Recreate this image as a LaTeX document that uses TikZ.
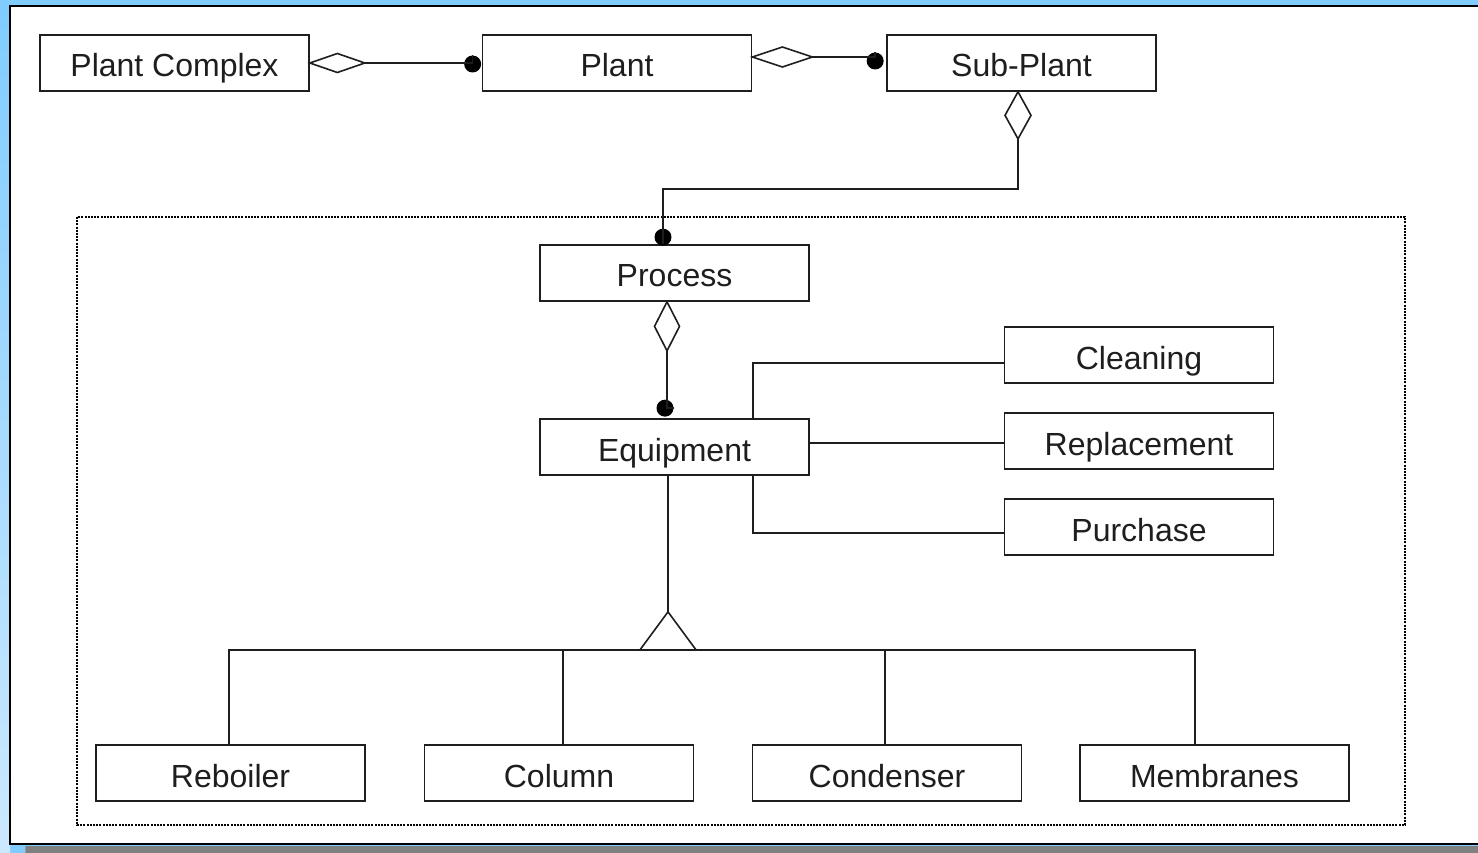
\documentclass[tikz,border=0pt]{standalone}
\usepackage{fontspec}
\setmainfont{Liberation Sans}
\usetikzlibrary{calc}
\definecolor{bgblue}{RGB}{128,204,255}
\definecolor{bglight}{RGB}{204,232,255}
\definecolor{ink}{RGB}{30,30,30}
\begin{document}
\begin{tikzpicture}[x=1pt,y=-1pt,
  cls/.style={draw=ink, line width=1.7pt, fill=white, minimum width=269pt, minimum height=56pt,
    inner sep=0pt, text height=28pt, text depth=0pt, font=\fontsize{32}{38}\selectfont, text=ink},
  conn/.style={line width=1.6pt, draw=ink},
  agg/.style={draw=ink, line width=1.6pt, fill=white, line join=miter},
  dotend/.style={circle, fill=black, inner sep=0pt, minimum size=17pt},
  frame/.style={draw=black, line width=2pt, dash pattern=on 2pt off 1.2pt}
]
\useasboundingbox (0,0) rectangle (1478,853);
% background
\fill[bgblue] (0,0) rectangle (1478,853);
\shade[top color=bgblue, bottom color=bglight] (0,0) rectangle (10,853);
\fill[white] (10,6) rectangle (1478,844);
\draw[line width=2.2pt, black] (1478,6) -- (10,6) -- (10,844) -- (1478,844);
\fill[gray] (26,846) rectangle (1478,853);
\draw[line width=1pt, black!40] (25.5,846) -- (25.5,853);

% dotted frame
\draw[frame] (77,217) rectangle (1405,825);

% classes
\node[cls] (pc) at (174.5,63) {Plant Complex};
\node[cls] (pl) at (617,63) {Plant};
\node[cls] (sp) at (1021.5,63) {Sub-Plant};
\node[cls] (pr) at (674.5,273) {Process};
\node[cls] (eq) at (674.5,447) {Equipment};
\node[cls] (cl) at (1139,355) {Cleaning};
\node[cls] (rp) at (1139,441) {Replacement};
\node[cls] (pu) at (1139,527) {Purchase};
\node[cls] (rb) at (230.5,773) {Reboiler};
\node[cls] (co) at (559,773) {Column};
\node[cls] (cn) at (887,773) {Condenser};
\node[cls] (mb) at (1214.5,773) {Membranes};

% Plant Complex -- Plant
\coordinate (a1) at (pc.east);
\draw[agg] (a1) -- ++(27.5,-9.5) -- ++(27.5,9.5) coordinate (a1t) -- ++(-27.5,9.5) -- cycle;
\node[dotend] (d1) at ($(pl.west)+(-9,1)$) {};
\draw[conn] (a1t) -- (a1t -| d1.center) -- (d1);

% Plant -- Sub-Plant
\coordinate (a2) at ($(pl.east)+(0,-6)$);
\draw[agg] (a2) -- ++(30,-10) -- ++(30,10) coordinate (a2t) -- ++(-30,10) -- cycle;
\node[dotend] (d2) at ($(sp.west)+(-11,-2)$) {};
\draw[conn] (a2t) -- (a2t -| d2.center) -- (d2);

% Sub-Plant -- Process
\coordinate (a3) at ($(sp.south)+(-3.5,0)$);
\draw[agg] (a3) -- ++(13,23.5) -- ++(-13,23.5) coordinate (a3t) -- ++(-13,-23.5) -- cycle;
\node[dotend] (d3) at ($(pr.north)+(-11.5,-7)$) {};
\coordinate (k3) at ($(a3t)+(0,50)$);
\draw[conn] (a3t) -- (k3) -- (k3 -| d3.center) -- (d3.center) -- (d3.center |- pr.north);

% Process -- Equipment
\coordinate (a4) at ($(pr.south)+(-7.5,0)$);
\draw[agg] (a4) -- ++(12.5,24.5) -- ++(-12.5,24.5) coordinate (a4t) -- ++(-12.5,-24.5) -- cycle;
\node[dotend] (d4) at ($(eq.north)+(-9.5,-10)$) {};
\draw[conn] (a4t) -- (a4t |- d4.center) -- (d4);

% Equipment -- Cleaning / Replacement / Purchase
\coordinate (e1) at ($(eq.north)+(78.5,0)$);
\draw[conn] (e1) -- (e1 |- 0,363) -- (cl.west |- 0,363);
\draw[conn] (eq.east |- 0,443) -- (rp.west |- 0,443);
\coordinate (e2) at ($(eq.south)+(78.5,0)$);
\draw[conn] (e2) -- (e2 |- 0,533) -- (pu.west |- 0,533);

% generalization
\coordinate (g0) at ($(eq.south)+(-6.5,0)$);
\coordinate (gap) at ($(g0)+(0,136)$);
\draw[conn] (g0) -- (gap);
\draw[agg] (gap) -- ++(28,38) -- ++(-56,0) -- cycle;
\coordinate (gb) at ($(gap)+(0,38)$);
\draw[conn] (rb.north -| 229,0) -- (229,0 |- gb) -- (1195,0 |- gb) -- (mb.north -| 1195,0);
\draw[conn] (563,0 |- gb) -- (co.north -| 563,0);
\draw[conn] (885,0 |- gb) -- (cn.north -| 885,0);
\end{tikzpicture}
\end{document}
